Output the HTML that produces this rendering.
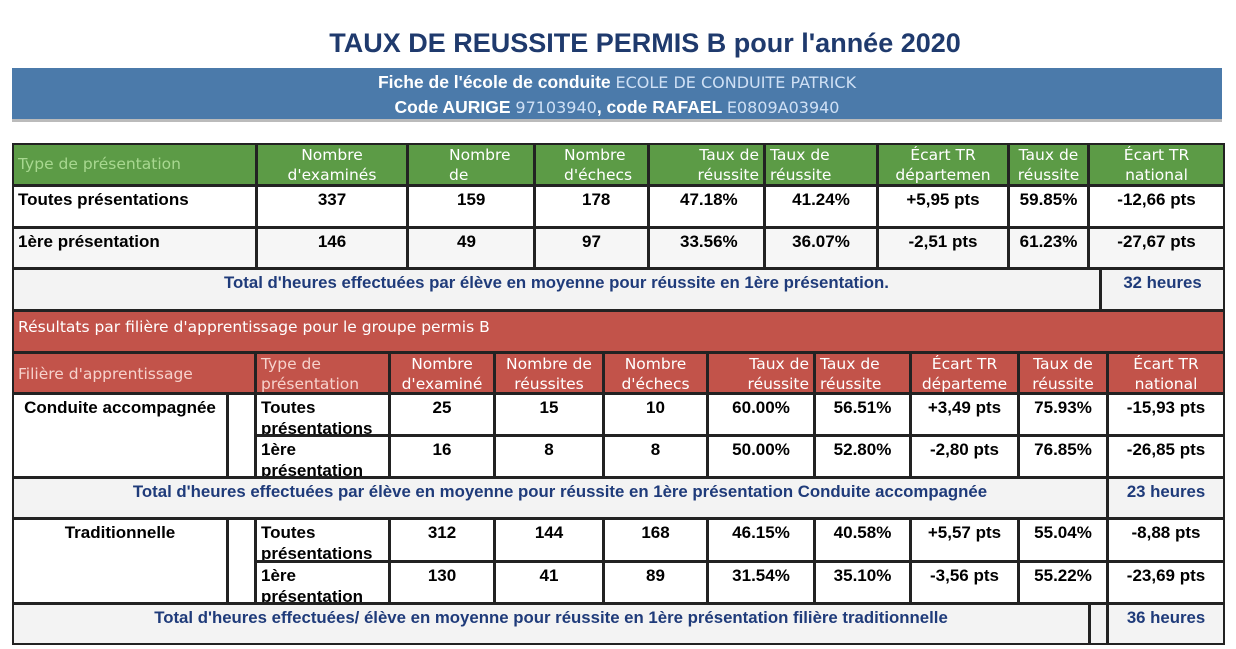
<!DOCTYPE html>
<html><head><meta charset="utf-8"><style>
body{margin:0;width:1236px;height:649px;background:#fff;position:relative;overflow:hidden;font-family:"Liberation Sans",sans-serif}
.a{position:absolute;box-sizing:border-box}
.c{position:absolute;box-sizing:border-box;border:2px solid #222;font-weight:bold;font-size:17px;color:#000;text-align:center;padding-top:2px;line-height:21px;overflow:hidden;white-space:nowrap}
.l{text-align:left;padding-left:4px}
.h{font-family:"DejaVu Sans",sans-serif;font-weight:normal;font-size:15.5px;color:#fff;line-height:20px;padding-top:0}
.g{background:#5c9b46}
.r{background:#c2534a}
.t{background:#f3f3f3;color:#1f3b7a;font-size:16.8px}
.s{font-family:'DejaVu Sans',sans-serif;font-weight:normal;font-size:16px;color:#cfe0f5}
</style></head><body>
<div class="a" style="left:0;top:28px;width:1290px;text-align:center;font-size:27px;font-weight:bold;color:#1f3a6d">TAUX DE REUSSITE PERMIS B pour l'année 2020</div>
<div class="a" style="left:12px;top:68px;width:1210px;height:54px;background:#4b7aaa;border-bottom:3px solid #bbb;color:#fff;font-weight:bold;font-size:17.5px;text-align:center;line-height:24px;padding-top:2px">
Fiche de l'école de conduite <span class="s">ECOLE DE CONDUITE PATRICK</span><br>
Code AURIGE <span class="s">97103940</span>, code RAFAEL <span class="s">E0809A03940</span></div>

<div class="c g h l" style="left:12px;top:143px;width:245px;height:43px;color:#a8d890;padding-top:9px">Type de présentation</div>
<div class="c g h" style="left:256px;top:143px;width:152px;height:43px">Nombre<br>d'examinés</div>
<div class="c g h l" style="left:407px;top:143px;width:128px;height:43px;padding-left:40px">Nombre<br>de</div>
<div class="c g h l" style="left:534px;top:143px;width:115px;height:43px;padding-left:28px">Nombre<br>d'échecs</div>
<div class="c g h" style="left:648px;top:143px;width:117px;height:43px;text-align:right;padding-right:4px">Taux de<br>réussite</div>
<div class="c g h l" style="left:764px;top:143px;width:114px;height:43px">Taux de<br>réussite</div>
<div class="c g h" style="left:877px;top:143px;width:132px;height:43px">Écart TR<br>départemen</div>
<div class="c g h" style="left:1008px;top:143px;width:81px;height:43px">Taux de<br>réussite</div>
<div class="c g h" style="left:1088px;top:143px;width:137px;height:43px">Écart TR<br>national</div>

<div class="c l" style="left:12px;top:185px;width:245px;height:43px">Toutes présentations</div>
<div class="c" style="left:256px;top:185px;width:152px;height:43px">337</div>
<div class="c l" style="left:407px;top:185px;width:128px;height:43px;padding-left:48px">159</div>
<div class="c l" style="left:534px;top:185px;width:115px;height:43px;padding-left:46px">178</div>
<div class="c l" style="left:648px;top:185px;width:117px;height:43px;padding-left:30px">47.18%</div>
<div class="c" style="left:764px;top:185px;width:114px;height:43px">41.24%</div>
<div class="c" style="left:877px;top:185px;width:132px;height:43px">+5,95 pts</div>
<div class="c" style="left:1008px;top:185px;width:81px;height:43px">59.85%</div>
<div class="c" style="left:1088px;top:185px;width:137px;height:43px">-12,66 pts</div>

<div class="c l" style="left:12px;top:227px;width:245px;height:42px;background:#f6f6f6">1ère présentation</div>
<div class="c" style="left:256px;top:227px;width:152px;height:42px;background:#f6f6f6">146</div>
<div class="c l" style="left:407px;top:227px;width:128px;height:42px;padding-left:48px;background:#f6f6f6">49</div>
<div class="c l" style="left:534px;top:227px;width:115px;height:42px;padding-left:46px;background:#f6f6f6">97</div>
<div class="c l" style="left:648px;top:227px;width:117px;height:42px;padding-left:30px;background:#f6f6f6">33.56%</div>
<div class="c" style="left:764px;top:227px;width:114px;height:42px;background:#f6f6f6">36.07%</div>
<div class="c" style="left:877px;top:227px;width:132px;height:42px;background:#f6f6f6">-2,51 pts</div>
<div class="c" style="left:1008px;top:227px;width:81px;height:42px;background:#f6f6f6">61.23%</div>
<div class="c" style="left:1088px;top:227px;width:137px;height:42px;background:#f6f6f6">-27,67 pts</div>

<div class="c t" style="left:12px;top:268px;width:1089px;height:43px">Total d'heures effectuées par élève en moyenne pour réussite en 1ère présentation.</div>
<div class="c t" style="left:1100px;top:268px;width:125px;height:43px">32 heures</div>

<div class="c r h l" style="left:12px;top:310px;width:1213px;height:43px;padding-top:5px;font-size:15.5px">Résultats par filière d'apprentissage pour le groupe permis B</div>
<div class="c r h l" style="left:12px;top:352px;width:244px;height:42px;color:#f6d2cc;padding-top:10px">Filière d'apprentissage</div>
<div class="c r h l" style="left:255px;top:352px;width:135px;height:42px;color:#f6d2cc">Type de<br>présentation</div>
<div class="c r h" style="left:389px;top:352px;width:106px;height:42px">Nombre<br>d'examiné</div>
<div class="c r h" style="left:494px;top:352px;width:110px;height:42px">Nombre de<br>réussites</div>
<div class="c r h" style="left:603px;top:352px;width:105px;height:42px">Nombre<br>d'échecs</div>
<div class="c r h" style="left:707px;top:352px;width:108px;height:42px;text-align:right;padding-right:4px">Taux de<br>réussite</div>
<div class="c r h l" style="left:814px;top:352px;width:97px;height:42px">Taux de<br>réussite</div>
<div class="c r h" style="left:910px;top:352px;width:109px;height:42px">Écart TR<br>départeme</div>
<div class="c r h" style="left:1018px;top:352px;width:90px;height:42px">Taux de<br>réussite</div>
<div class="c r h" style="left:1107px;top:352px;width:118px;height:42px">Écart TR<br>national</div>

<div class="c" style="left:12px;top:393px;width:216px;height:85px">Conduite accompagnée</div>
<div class="c" style="left:227px;top:393px;width:29px;height:85px"></div>
<div class="c l" style="left:255px;top:393px;width:135px;height:43px;line-height:21px">Toutes<br>présentations</div>
<div class="c" style="left:389px;top:393px;width:106px;height:43px">25</div>
<div class="c" style="left:494px;top:393px;width:110px;height:43px">15</div>
<div class="c" style="left:603px;top:393px;width:105px;height:43px">10</div>
<div class="c" style="left:707px;top:393px;width:108px;height:43px">60.00%</div>
<div class="c" style="left:814px;top:393px;width:97px;height:43px">56.51%</div>
<div class="c" style="left:910px;top:393px;width:109px;height:43px">+3,49 pts</div>
<div class="c" style="left:1018px;top:393px;width:90px;height:43px">75.93%</div>
<div class="c" style="left:1107px;top:393px;width:118px;height:43px">-15,93 pts</div>

<div class="c l" style="left:255px;top:435px;width:135px;height:43px;line-height:21px">1ère<br>présentation</div>
<div class="c" style="left:389px;top:435px;width:106px;height:43px">16</div>
<div class="c" style="left:494px;top:435px;width:110px;height:43px">8</div>
<div class="c" style="left:603px;top:435px;width:105px;height:43px">8</div>
<div class="c" style="left:707px;top:435px;width:108px;height:43px">50.00%</div>
<div class="c" style="left:814px;top:435px;width:97px;height:43px">52.80%</div>
<div class="c" style="left:910px;top:435px;width:109px;height:43px">-2,80 pts</div>
<div class="c" style="left:1018px;top:435px;width:90px;height:43px">76.85%</div>
<div class="c" style="left:1107px;top:435px;width:118px;height:43px">-26,85 pts</div>

<div class="c t" style="left:12px;top:477px;width:1096px;height:42px">Total d'heures effectuées par élève en moyenne pour réussite en 1ère présentation Conduite accompagnée</div>
<div class="c t" style="left:1107px;top:477px;width:118px;height:42px">23 heures</div>

<div class="c" style="left:12px;top:518px;width:216px;height:86px">Traditionnelle</div>
<div class="c" style="left:227px;top:518px;width:29px;height:86px"></div>
<div class="c l" style="left:255px;top:518px;width:135px;height:44px;line-height:21px">Toutes<br>présentations</div>
<div class="c" style="left:389px;top:518px;width:106px;height:44px">312</div>
<div class="c" style="left:494px;top:518px;width:110px;height:44px">144</div>
<div class="c" style="left:603px;top:518px;width:105px;height:44px">168</div>
<div class="c" style="left:707px;top:518px;width:108px;height:44px">46.15%</div>
<div class="c" style="left:814px;top:518px;width:97px;height:44px">40.58%</div>
<div class="c" style="left:910px;top:518px;width:109px;height:44px">+5,57 pts</div>
<div class="c" style="left:1018px;top:518px;width:90px;height:44px">55.04%</div>
<div class="c" style="left:1107px;top:518px;width:118px;height:44px">-8,88 pts</div>

<div class="c l" style="left:255px;top:561px;width:135px;height:43px;line-height:21px">1ère<br>présentation</div>
<div class="c" style="left:389px;top:561px;width:106px;height:43px">130</div>
<div class="c" style="left:494px;top:561px;width:110px;height:43px">41</div>
<div class="c" style="left:603px;top:561px;width:105px;height:43px">89</div>
<div class="c" style="left:707px;top:561px;width:108px;height:43px">31.54%</div>
<div class="c" style="left:814px;top:561px;width:97px;height:43px">35.10%</div>
<div class="c" style="left:910px;top:561px;width:109px;height:43px">-3,56 pts</div>
<div class="c" style="left:1018px;top:561px;width:90px;height:43px">55.22%</div>
<div class="c" style="left:1107px;top:561px;width:118px;height:43px">-23,69 pts</div>

<div class="c t" style="left:12px;top:603px;width:1078px;height:42px">Total d'heures effectuées/ élève en moyenne pour réussite en 1ère présentation filière traditionnelle</div>
<div class="c t" style="left:1089px;top:603px;width:19px;height:42px"></div>
<div class="c t" style="left:1107px;top:603px;width:118px;height:42px">36 heures</div>
</body></html>
